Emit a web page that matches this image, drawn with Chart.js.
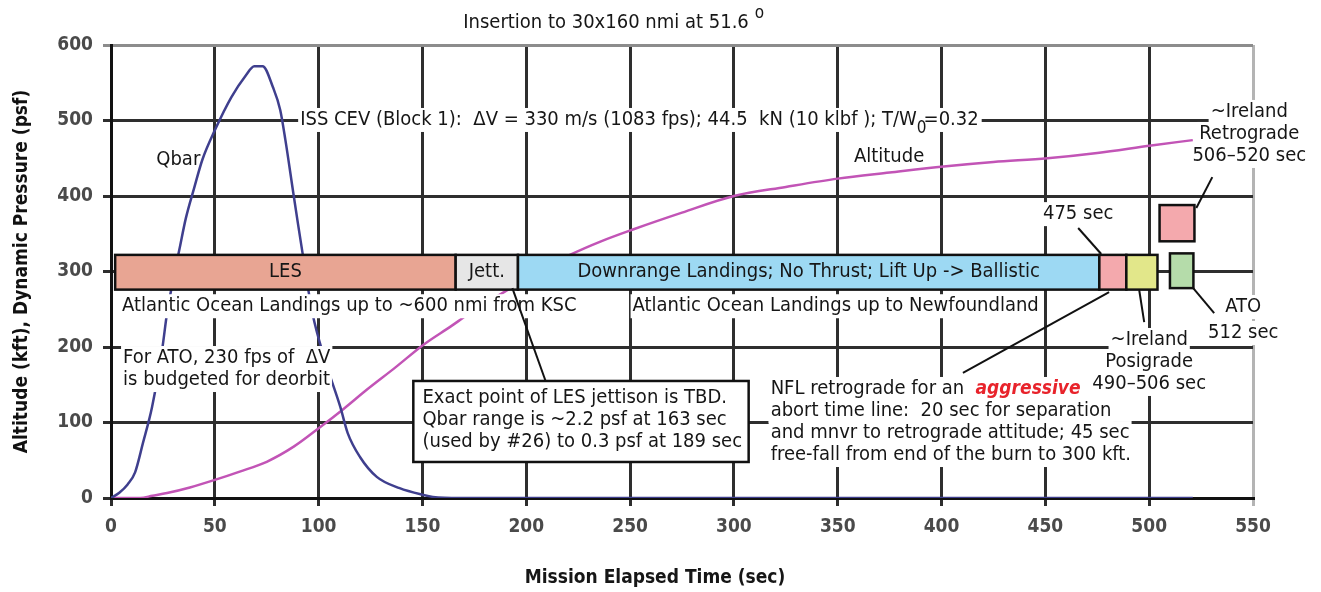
<!DOCTYPE html>
<html>
<head>
<meta charset="utf-8">
<script src="https://cdn.jsdelivr.net/npm/chart.js@4/dist/chart.umd.min.js"></script>
<style>
  html, body { margin: 0; padding: 0; background: #fff; }
  #wrap { width: 1321px; height: 592px; position: relative; }
</style>
</head>
<body>
<div id="wrap"><canvas id="chart"></canvas></div>
<script>
var FONT = '"Liberation Sans Narrow", "DejaVu Sans Condensed", "Roboto Condensed", sans-serif';

// Axis ticks
var xTickValues = [0, 50, 100, 150, 200, 250, 300, 350, 400, 450, 500, 550];
var yTickValues = [0, 100, 200, 300, 400, 500, 600];

// Qbar, dynamic pressure (psf) against mission elapsed time (sec)
var qbarTime = [0, 4, 8, 11.6, 15.4, 19.8, 24.6, 27, 30, 33, 36, 40, 44, 50, 58, 65, 69, 73,
	78, 81.5, 84, 87.8, 90, 92.5, 97, 103, 110.4, 114, 120, 128, 139, 150.5, 155, 168, 521];
var qbarPsf = [0, 7, 18, 34, 73, 121, 196, 245, 290, 330, 370, 410, 448, 487, 531, 560, 572, 572,
	544, 514, 474, 404, 364, 320, 245, 183, 121, 86, 54, 28, 13, 4, 1.5, 0, 0];

// Altitude (kft)
var altTime = [0, 14, 20, 27, 38, 50, 62, 75, 88, 100.8, 112, 123, 137, 150.5, 163.5, 173, 183, 192.4,
	205, 221, 236, 251.7, 275, 300, 325, 350, 375, 401, 425, 451, 475, 501, 521];
var altKft = [0, 0, 3, 6.6, 14, 24, 35, 48, 68, 94, 118, 143, 173, 203, 227, 245, 262, 278,
	299, 322, 340, 356, 378, 400, 412, 423, 431, 439, 445, 450, 457, 467, 474];

// Abort regions (time span in sec, vertical span in chart units)
var regionNames = ['LES', 'Jett.', 'Downrange Landings; No Thrust; Lift Up -> Ballistic', '', '', '', ''];
var regionStart = [2, 166, 196, 476, 489, 510, 505];
var regionEnd = [166, 196, 476, 489, 504, 521.3, 521.8];
var regionLow = [276, 276, 276, 276, 276, 278, 340];
var regionHigh = [322, 322, 322, 322, 322, 324, 388];
var regionColors = ['#e8a593', '#e6e6e6', '#9dd9f3', '#f4a9ad', '#e2e78a', '#b5dcaa', '#f4a9ad'];

// Text notes placed in chart units
var notes = [
	{ lines: ['Qbar'], x: 21.8, y: 448, align: 'left', bg: false },
	{ lines: ['Altitude'], x: 357.8, y: 452, align: 'left', bg: false },
	{ lines: ['Atlantic Ocean Landings up to ~600 nmi from KSC'], x: 5.3, y: 254, align: 'left' },
	{ lines: ['Atlantic Ocean Landings up to Newfoundland'], x: 251.2, y: 254, align: 'left' },
	{ lines: ['For ATO, 230 fps of  \u0394V', 'is budgeted for deorbit'], x: 5.8, y: 185.4, align: 'left' },
	{ lines: ['475 sec'], x: 465.8, y: 376, align: 'center' },
	{ lines: ['~Ireland', 'Retrograde', '506\u2013520 sec'], x: 548.2, y: 511.3, align: 'center' },
	{ lines: ['~Ireland', 'Posigrade', '490\u2013506 sec'], x: 500, y: 209.3, align: 'center' },
	{ lines: ['ATO', '512 sec'], x: 545.3, y: 253, align: 'center', step: 26 },
	{ lines: ['abort time line:  20 sec for separation', 'and mnvr to retrograde attitude; 45 sec',
		'free-fall from end of the burn to 300 kft.'], x: 317.7, y: 115.2, align: 'left' }
];

var jettNote = ['Exact point of LES jettison is TBD.', 'Qbar range is ~2.2 psf at 163 sec',
	'(used by #26) to 0.3 psf at 189 sec'];

// Leader lines [x1, y1, x2, y2]
var leaders = [
	[209.3, 155, 193.3, 278],
	[410.3, 165.6, 480.7, 272.8],
	[465.8, 357.6, 476.9, 323.2],
	[530.4, 425, 522.7, 384],
	[495.2, 275.5, 497.6, 233],
	[521.2, 278, 531.3, 245]
];

function toPoints(xs, ys) {
	return xs.map(function (x, i) { return { x: x, y: ys[i] }; });
}

function gridColor(ctx) {
	if (ctx.tick && ctx.tick.value === 550) return '#b4b4b4';
	if (ctx.tick && ctx.tick.value === 600) return '#8c8c8c';
	return '#2e2e2e';
}

function labelLine(ctx, text, x, y, bg) {
	var w = ctx.measureText(text).width;
	if (bg) {
		ctx.fillStyle = '#fff';
		ctx.fillRect(x - 2, y - 12, w + 4, 24);
	}
	ctx.fillStyle = '#161616';
	ctx.fillText(text, x, y);
	return w;
}

var annotations = {
	id: 'annotations',
	afterDatasetsDraw: function (chart) {
		var ctx = chart.ctx;
		var xs = chart.scales.x, ys = chart.scales.y;
		var X = function (v) { return xs.getPixelForValue(v); };
		var Y = function (v) { return ys.getPixelForValue(v); };
		ctx.save();
		ctx.textBaseline = 'middle';
		ctx.textAlign = 'left';
		ctx.font = '20px ' + FONT;

		// abort region boxes
		regionStart.forEach(function (s, i) {
			var l = X(s), r = X(regionEnd[i]), t = Y(regionHigh[i]), b = Y(regionLow[i]);
			ctx.fillStyle = regionColors[i];
			ctx.fillRect(l, t, r - l, b - t);
			ctx.lineWidth = 2.5;
			ctx.strokeStyle = '#111';
			ctx.strokeRect(l, t, r - l, b - t);
			if (regionNames[i]) {
				var w = ctx.measureText(regionNames[i]).width;
				ctx.fillStyle = '#161616';
				ctx.fillText(regionNames[i], (l + r) / 2 - w / 2, (t + b) / 2);
			}
		});

		// ISS CEV line with subscript
		var ix = X(91.1), iy = Y(500.7);
		var part1 = 'ISS CEV (Block 1):  \u0394V = 330 m/s (1083 fps); 44.5  kN (10 klbf ); T/W';
		var w1 = ctx.measureText(part1).width;
		ctx.font = '17px ' + FONT;
		var ws = ctx.measureText('0').width;
		ctx.font = '20px ' + FONT;
		var w2 = ctx.measureText('=0.32').width;
		ctx.fillStyle = '#fff';
		ctx.fillRect(ix - 2, iy - 12, w1 + ws + w2 + 2, 24);
		ctx.fillStyle = '#161616';
		ctx.fillText(part1, ix, iy);
		ctx.font = '17px ' + FONT;
		ctx.fillText('0', ix + w1, iy + 9);
		ctx.font = '20px ' + FONT;
		ctx.fillText('=0.32', ix + w1 + ws - 3, iy);

		// plain notes
		notes.forEach(function (n) {
			var step = n.step || 22;
			n.lines.forEach(function (line, k) {
				var w = ctx.measureText(line).width;
				var x = n.align === 'center' ? X(n.x) - w / 2 : X(n.x);
				labelLine(ctx, line, x, Y(n.y) + k * step, n.bg !== false);
			});
		});

		// first NFL line with the highlighted word
		var nx = X(317.7), ny = Y(144.4);
		var wa = ctx.measureText('NFL retrograde for an  ').width;
		ctx.font = 'italic bold 19px ' + FONT;
		var wb = ctx.measureText('aggressive').width;
		ctx.fillStyle = '#fff';
		ctx.fillRect(nx - 2, ny - 12, wa + wb + 4, 24);
		ctx.font = '20px ' + FONT;
		ctx.fillStyle = '#161616';
		ctx.fillText('NFL retrograde for an  ', nx, ny);
		ctx.font = 'italic bold 19px ' + FONT;
		ctx.fillStyle = '#e8232b';
		ctx.fillText('aggressive', nx + wa, ny);
		ctx.font = '20px ' + FONT;

		// jettison note box
		var bl = X(145.6), br = X(307.1), bt = Y(155), bb = Y(47.7);
		ctx.fillStyle = '#fff';
		ctx.fillRect(bl, bt, br - bl, bb - bt);
		ctx.lineWidth = 2.5;
		ctx.strokeStyle = '#111';
		ctx.strokeRect(bl, bt, br - bl, bb - bt);
		jettNote.forEach(function (line, k) {
			ctx.fillStyle = '#161616';
			ctx.fillText(line, X(150), Y(132.5) + k * 22);
		});

		// leader lines
		ctx.lineWidth = 2;
		ctx.strokeStyle = '#111';
		leaders.forEach(function (s) {
			ctx.beginPath();
			ctx.moveTo(X(s[0]), Y(s[1]));
			ctx.lineTo(X(s[2]), Y(s[3]));
			ctx.stroke();
		});

		// title and x axis title
		ctx.font = '20px ' + FONT;
		ctx.fillStyle = '#161616';
		var tt = 'Insertion to 30x160 nmi at 51.6';
		var tw = ctx.measureText(tt).width;
		ctx.fillText(tt, 606 - tw / 2, 23);
		ctx.font = '17px ' + FONT;
		ctx.fillText('o', 606 + tw / 2 + 6, 14);
		ctx.font = 'bold 19px ' + FONT;
		var xt = 'Mission Elapsed Time (sec)';
		ctx.fillText(xt, 655 - ctx.measureText(xt).width / 2, 578);
		ctx.restore();
	}
};

var chart = new Chart(document.getElementById('chart'), {
	type: 'line',
	data: {
		datasets: [
			{
				label: 'Qbar',
				data: toPoints(qbarTime, qbarPsf),
				borderColor: '#3f3f8e',
				borderWidth: 2.5,
				pointRadius: 0,
				cubicInterpolationMode: 'monotone'
			},
			{
				label: 'Altitude',
				data: toPoints(altTime, altKft),
				borderColor: '#c254b6',
				borderWidth: 2.5,
				pointRadius: 0,
				cubicInterpolationMode: 'monotone'
			}
		]
	},
	options: {
		responsive: true,
		maintainAspectRatio: false,
		animation: false,
		layout: { padding: { top: 45, right: 68, left: 0, bottom: 0 } },
		plugins: {
			legend: { display: false },
			tooltip: { enabled: false }
		},
		scales: {
			x: {
				type: 'linear',
				min: 0,
				max: 550,
				afterBuildTicks: function (scale) {
					scale.ticks = xTickValues.map(function (v) { return { value: v }; });
				},
				afterFit: function (scale) { scale.height = 94; },
				grid: { color: gridColor, lineWidth: 3, tickLength: 8 },
				border: { color: '#111', width: 3 },
				ticks: {
					color: '#4a4a4a',
					padding: 10,
					maxRotation: 0,
					font: { family: FONT, size: 19, weight: 'bold' }
				}
			},
			y: {
				min: 0,
				max: 600,
				afterBuildTicks: function (scale) {
					scale.ticks = yTickValues.map(function (v) { return { value: v }; });
				},
				afterFit: function (scale) { scale.width = 111; },
				grid: { color: gridColor, lineWidth: 3, tickLength: 8 },
				border: { color: '#111', width: 3 },
				ticks: {
					color: '#4a4a4a',
					padding: 10,
					font: { family: FONT, size: 19, weight: 'bold' }
				},
				title: {
					display: true,
					text: 'Altitude (kft), Dynamic Pressure (psf)',
					color: '#111',
					padding: { top: 11, bottom: 0 },
					font: { family: FONT, size: 19, weight: 'bold' }
				}
			}
		}
	},
	plugins: [annotations]
});
</script>
</body>
</html>
